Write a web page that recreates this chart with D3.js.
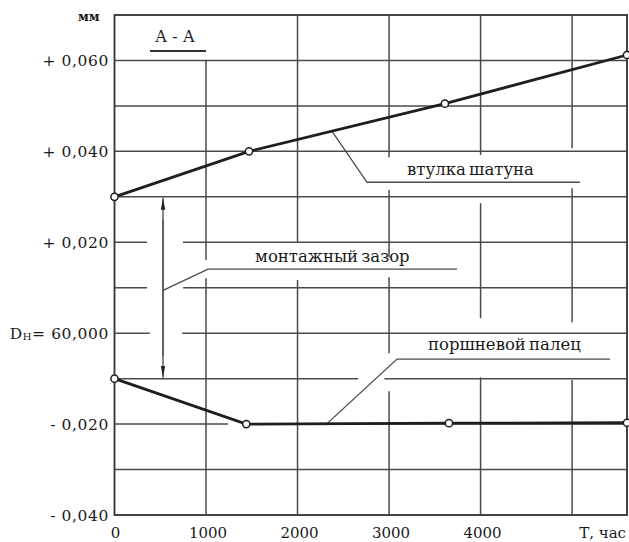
<!DOCTYPE html>
<html><head><meta charset="utf-8">
<script src="https://cdn.jsdelivr.net/npm/d3@7"></script>
<style>
html,body{margin:0;padding:0;background:#fff;}
svg{display:block;}
text{font-family:"DejaVu Serif",serif;fill:#1a1a1a;}
</style></head>
<body><svg id="c" width="629" height="542"></svg>
<script>
// ---- data ----
const xTicks = [0, 1000, 2000, 3000, 4000];
const xTickLabels = ["0", "1000", "2000", "3000", "4000"];
const yTicks = [0.060, 0.040, 0.020, 0.000, -0.020, -0.040];
const yTickLabels = ["+ 0,060", "+ 0,040", "+ 0,020", "60,000", "- 0,020", "- 0,040"];
const bushingT = [0, 1470, 3610, 5600];
const bushingDev = [0.030, 0.040, 0.0505, 0.0612];
const pinT = [0, 1440, 3655, 5600];
const pinDev = [-0.010, -0.020, -0.0198, -0.0197];
const seriesNames = ["втулка шатуна", "монтажный зазор", "поршневой палец"];
const gridXValues = [1000, 2000, 3000, 4000, 5000];
const gridYValues = [0.060, 0.050, 0.040, 0.030, 0.020, 0.010, 0.000, -0.010, -0.020, -0.030];

const svg = d3.select("#c");
const x = d3.scaleLinear().domain([0, 5600]).range([114.5, 627]);
const y = d3.scaleLinear().domain([-0.040, 0.070]).range([515, 15]);
const ink = "#1e1e1e", gridCol = "#4a4a4a";

const vGaps = {
  1000: [[0.070, 0.060], [0.0161, 0.0121]],
  2000: [[0.0200, 0.0117]],
  3000: [[0.0387, 0.0315], [0.0167, 0.0123], [-0.0044, -0.0128]],
  4000: [[0.0392, 0.0286], [0.0033, -0.0097]],
  5000: [[0.0407, 0.0319], [0.0024, -0.0103]]
};
const hGaps = {
  "0.02": [[355, 749]],
  "0.01": [[355, 749]],
  "0": [[385, 740]],
  "-0.01": [[2662, 2950]],
  "-0.02": [[1240, 1437]]
};
function segments(lo, hi, gaps) {
  let segs = [[lo, hi]];
  (gaps || []).forEach(g => {
    const a = Math.min(g[0], g[1]), b = Math.max(g[0], g[1]);
    const out = [];
    segs.forEach(s => {
      if (b <= s[0] || a >= s[1]) { out.push(s); return; }
      if (a > s[0]) out.push([s[0], a]);
      if (b < s[1]) out.push([b, s[1]]);
    });
    segs = out;
  });
  return segs;
}
const grid = svg.append("g").attr("stroke", gridCol).attr("stroke-width", 1.5).attr("fill", "none");
gridXValues.forEach(v => {
  segments(-0.040, 0.070, vGaps[v]).forEach(s => {
    grid.append("line").attr("x1", x(v)).attr("x2", x(v)).attr("y1", y(s[0])).attr("y2", y(s[1]));
  });
});
gridYValues.forEach(v => {
  segments(0, 5600, hGaps[String(+v.toFixed(3))]).forEach(s => {
    grid.append("line").attr("y1", y(v)).attr("y2", y(v)).attr("x1", x(s[0])).attr("x2", x(s[1]));
  });
});
svg.append("rect").attr("x", x(0)).attr("y", y(0.070)).attr("width", x(5600) - x(0)).attr("height", y(-0.040) - y(0.070))
  .attr("fill", "none").attr("stroke", "#3a3a3a").attr("stroke-width", 1.9);

const fs = 15;
svg.append("g").selectAll("text").data(xTicks).join("text")
  .attr("x", d => x(d) + (d === 0 ? 1 : 2)).attr("y", 538).attr("text-anchor", "middle")
  .attr("font-size", fs).text((d, i) => xTickLabels[i]);
svg.append("text").attr("x", 626).attr("y", 538).attr("text-anchor", "end").attr("font-size", fs).text("Т, час");
const yl = svg.append("g").selectAll("text").data(yTicks).join("text")
  .attr("x", 109).attr("y", d => y(d) + 5.5).attr("text-anchor", "end")
  .attr("font-size", 15.5).attr("letter-spacing", 0.6);
yl.each(function(d, i) {
  const t = d3.select(this);
  if (d === 0) {
    t.append("tspan").text("D");
    t.append("tspan").attr("font-size", 10).attr("dy", 1).text("Н");
    t.append("tspan").attr("dy", -1).text("= " + yTickLabels[i]);
  } else t.text(yTickLabels[i]);
});
svg.append("text").attr("x", 78).attr("y", 21).attr("font-size", 12.5).attr("font-weight", "bold").text("мм");
svg.append("text").attr("x", 155).attr("y", 42).attr("font-size", 16).text("А - А");
svg.append("line").attr("x1", 150).attr("x2", 206).attr("y1", 51).attr("y2", 51).attr("stroke", "#333").attr("stroke-width", 1.8);

const lead = svg.append("g").attr("stroke", gridCol).attr("stroke-width", 1.3).attr("fill", "none");
const line = d3.line().x(d => x(d[0])).y(d => y(d[1]));
lead.append("path").attr("d", line([[2377, 0.0444], [2760, 0.0332], [5087, 0.0332]]));
lead.append("path").attr("d", line([[530, 0.0094], [1022, 0.0141], [3743, 0.0141]]));
lead.append("path").attr("d", line([[2322, -0.0199], [3087, -0.0057], [5415, -0.0057]]));

const defs = svg.append("defs");
defs.append("marker").attr("id", "ar").attr("viewBox", "0 0 12 6").attr("refX", 12).attr("refY", 3)
  .attr("markerWidth", 12).attr("markerHeight", 6).attr("markerUnits", "userSpaceOnUse").attr("orient", "auto")
  .append("path").attr("d", "M0,0.8 L12,3 L0,5.2 Z").attr("fill", "#222");
lead.append("line").attr("x1", x(530)).attr("x2", x(530)).attr("y1", y(-0.005)).attr("y2", y(0.030) + 1)
  .attr("marker-end", "url(#ar)");
lead.append("line").attr("x1", x(530)).attr("x2", x(530)).attr("y1", y(0.025)).attr("y2", y(-0.010) - 1)
  .attr("marker-end", "url(#ar)");

svg.append("text").attr("x", x(3197)).attr("y", y(0.0348)).attr("font-size", 16.5).attr("word-spacing", -2).text(seriesNames[0]);
svg.append("text").attr("x", x(1536)).attr("y", y(0.0156)).attr("font-size", 16.5).attr("word-spacing", -2).text(seriesNames[1]);
svg.append("text").attr("x", x(3426)).attr("y", y(-0.0037)).attr("font-size", 16.5).attr("word-spacing", -2).text(seriesNames[2]);

[[bushingT, bushingDev], [pinT, pinDev]].forEach(([ts, vs]) => {
  const pts = ts.map((t, i) => [t, vs[i]]);
  svg.append("path").attr("d", line(pts)).attr("fill", "none").attr("stroke", ink).attr("stroke-width", 2.8);
  svg.append("g").selectAll("circle").data(pts).join("circle")
    .attr("cx", d => x(d[0])).attr("cy", d => y(d[1])).attr("r", 3.6)
    .attr("fill", "#fff").attr("stroke", ink).attr("stroke-width", 1.5);
});
</script></body></html>
